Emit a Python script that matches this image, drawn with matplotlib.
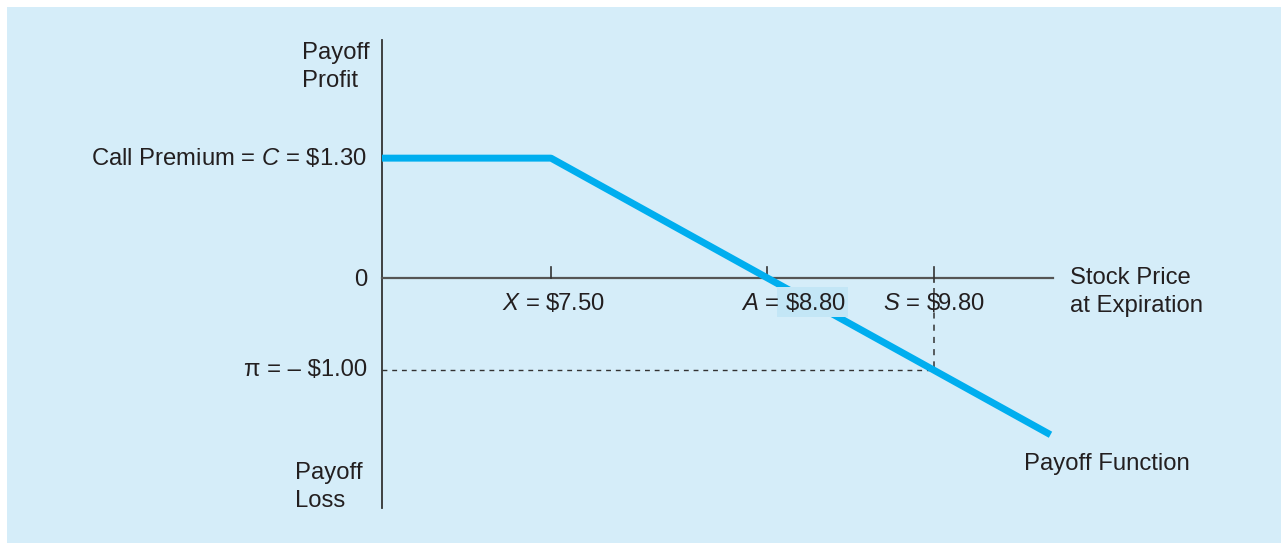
import matplotlib
matplotlib.use("Agg")
import matplotlib.pyplot as plt
from matplotlib.patches import Rectangle

# Data
stock_prices = [6.485, 7.50, 10.50]
payoffs = [1.30, 1.30, -1.70]
strike = 7.50
breakeven = 8.80
spot = 9.80
premium = 1.30
profit = -1.00

LINE = "#00aeef"
BG = "#d5edf9"
AX = "#333333"
TXT = "#231f20"

plt.rcParams['font.family'] = ['Liberation Sans', 'DejaVu Sans']
plt.rcParams['mathtext.fontset'] = 'custom'
plt.rcParams['mathtext.it'] = 'Liberation Sans:italic'
plt.rcParams['mathtext.rm'] = 'Liberation Sans'

W, H = 1281, 543
fig = plt.figure(figsize=(W / 100, H / 100), dpi=100)
fig.patch.set_facecolor("white")
bg = Rectangle((7 / W, 0), 1, 1 - 7 / H, transform=fig.transFigure,
               facecolor=BG, edgecolor="none", zorder=-10)
fig.add_artist(bg)

ax = fig.add_axes([0, 0, 1, 1])
ax.set_zorder(5)
ax.set_facecolor("none")
# pixel -> data mapping
xpp = 166.5
ypp = 92.2
y0pix = 278.0
ax.set_xlim(strike - 551 / xpp, strike + (W - 551) / xpp)
ax.set_ylim(-(H - y0pix) / ypp, y0pix / ypp)
ax.axis("off")

xmin_axis = stock_prices[0]
xmax_axis = strike + (1053 - 551) / xpp
ytop = (y0pix - 40) / ypp
ybot = -(508 - y0pix) / ypp

# axes
ax.plot([xmin_axis, xmin_axis], [ybot, ytop], color=AX, lw=1.3, zorder=3)
ax.plot([xmin_axis, xmax_axis], [0, 0], color="#555555", lw=1.6, zorder=3)

# ticks
tick = 11 / ypp
for xv in [strike, breakeven]:
    ax.plot([xv, xv], [0, tick], color=AX, lw=1.2, zorder=3)
ax.plot([spot, spot], [-4 / ypp, tick], color=AX, lw=1.2, zorder=3)

# dashed guides
ax.plot([spot, spot], [-10 / ypp, profit], color=AX, lw=1.1, ls=(0, (4, 4)), zorder=3)
ax.plot([xmin_axis, spot], [profit, profit], color=AX, lw=1.0, ls=(0, (3.5, 3.5)), zorder=3)

# payoff line
ax.plot(stock_prices, payoffs, color=LINE, lw=5, solid_capstyle="butt", zorder=4)

fs = 17.2
ls_ = 1.33


def px(xp):
    return strike + (xp - 551) / xpp


def py(yp):
    return (y0pix - yp) / ypp


# box behind $8.80
ax.add_patch(Rectangle((px(777), py(317)), px(848) - px(777), py(287) - py(317),
                       facecolor="#c3e6f6", edgecolor="none", zorder=5))

ax.text(px(302), py(67), "Payoff\nProfit", ha="left", va="center", fontsize=fs,
        color=TXT, linespacing=ls_, zorder=6)
ax.text(px(295), py(487), "Payoff\nLoss", ha="left", va="center", fontsize=fs,
        color=TXT, linespacing=ls_, zorder=6)
ax.text(px(367), premium, r"Call Premium = $C$ = \$1.30", ha="right", va="center",
        fontsize=fs, color=TXT, zorder=6)
ax.text(px(367), py(280), "0", ha="right", va="center", fontsize=fs, color=TXT, zorder=6)
ax.text(px(367), profit, "\u03c0 = \u2013 $1.00", ha="right", va="center", fontsize=fs,
        color=TXT, zorder=6)
ax.text(px(553), py(303), r"$X$ = \$7.50", ha="center", va="center", fontsize=fs,
        color=TXT, zorder=6)
ax.text(px(794), py(303), r"$A$ = \$8.80", ha="center", va="center", fontsize=fs,
        color=TXT, zorder=6)
ax.text(px(934), py(303), r"$S$ = \$9.80", ha="center", va="center", fontsize=fs,
        color=TXT, zorder=6)
ax.text(px(1070), py(292), "Stock Price\nat Expiration", ha="left", va="center",
        fontsize=fs, color=TXT, linespacing=ls_, zorder=6)
ax.text(px(1024), py(464), "Payoff Function", ha="left", va="center", fontsize=fs,
        color=TXT, zorder=6)

fig.savefig("out.png", dpi=100, facecolor="white")
